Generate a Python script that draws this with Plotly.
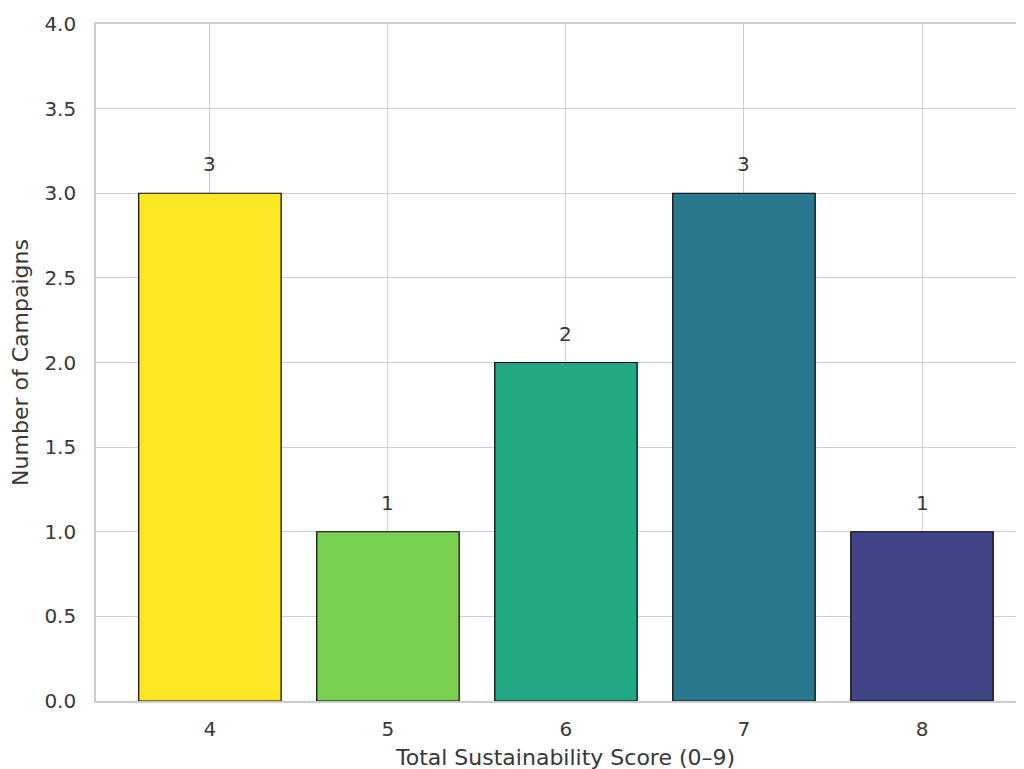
import plotly.graph_objects as go

scores = ["4", "5", "6", "7", "8"]
score_vals = [4, 5, 6, 7, 8]
counts = [3, 1, 2, 3, 1]
colors = ["#fde725", "#7ad151", "#22a884", "#2a788e", "#414487"]

FONT = "DejaVu Sans"
GRID = "#d0d0d0"
TXT = "#383838"

fig = go.Figure()
fig.add_trace(go.Bar(
    x=score_vals, y=counts, width=0.8,
    marker=dict(color=colors, line=dict(color="black", width=1.2)),
    showlegend=False, hoverinfo="x+y",
))

for xv, c in zip(score_vals, counts):
    fig.add_annotation(x=xv, y=c, text=str(c), showarrow=False,
                       yanchor="bottom", yshift=15,
                       font=dict(family=FONT, size=20, color=TXT))

fig.add_annotation(x=0.5, xref="paper", y=0, yref="paper", yshift=-56, xshift=5,
                   text="Total Sustainability Score (0–9)", showarrow=False,
                   yanchor="middle", font=dict(family=FONT, size=22, color=TXT))

fig.update_layout(
    width=1016, height=761,
    margin=dict(l=88, r=0, t=16, b=68),
    plot_bgcolor="white", paper_bgcolor="white",
    font=dict(family=FONT, size=20, color=TXT),
    xaxis=dict(
        range=[3.36, 8.573], tickmode="array", tickvals=score_vals, ticktext=scores,
        showgrid=True, gridcolor=GRID, gridwidth=1.4,
        showline=True, linecolor="#cccccc", linewidth=1.6, mirror=True,
        ticks="", ticklabelstandoff=9, zeroline=False,
        tickfont=dict(family=FONT, size=20, color=TXT),
    ),
    yaxis=dict(
        range=[0, 4], dtick=0.5, tickformat=".1f",
        showgrid=True, gridcolor=GRID, gridwidth=1.4,
        showline=True, linecolor="#cccccc", linewidth=1.6,
        ticks="", ticklabelstandoff=14, zeroline=False,
        title=dict(text="Number of Campaigns", font=dict(family=FONT, size=22, color=TXT), standoff=12),
        tickfont=dict(family=FONT, size=20, color=TXT),
    ),
    bargap=0.2,
)

fig.write_html("out.html")
